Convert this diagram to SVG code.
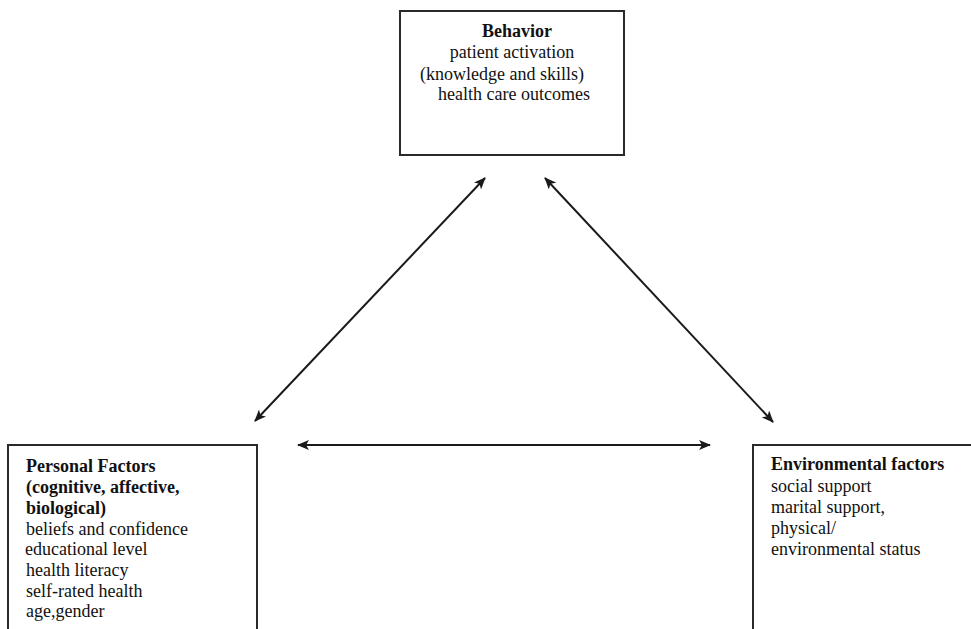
<svg xmlns="http://www.w3.org/2000/svg" width="971" height="629" viewBox="0 0 971 629">
<defs>
<marker id="ah" viewBox="0 0 12 10" refX="11" refY="5" markerWidth="13" markerHeight="10" orient="auto-start-reverse" markerUnits="userSpaceOnUse">
<path d="M0,0 L12,5 L0,10 L3,5 Z" fill="#1a1a1a"/>
</marker>
<style>
.box{fill:#fff;stroke:#2a2a2a;stroke-width:2}
.t{font-family:"Liberation Serif","Times New Roman",serif;font-size:18px;fill:#111}
.tb{font-family:"Liberation Serif","Times New Roman",serif;font-size:18px;font-weight:bold;fill:#111}
.c{stroke:#1a1a1a;stroke-width:2;fill:none;marker-start:url(#ah);marker-end:url(#ah)}
</style>
</defs>
<rect width="971" height="629" fill="#fff"/>
<g id="behavior">
<rect class="box" x="400" y="11" width="224" height="144"/>
<text class="tb" x="517" y="37" text-anchor="middle">Behavior</text>
<text class="t" x="512" y="58" text-anchor="middle">patient activation</text>
<text class="t" x="502" y="80" text-anchor="middle">(knowledge and skills)</text>
<text class="t" x="514" y="100" text-anchor="middle">health care outcomes</text>
</g>
<g id="personal">
<rect class="box" x="8" y="445" width="249" height="200"/>
<text class="tb" x="26" y="472">Personal Factors</text>
<text class="tb" x="26" y="493">(cognitive, affective,</text>
<text class="tb" x="26" y="514">biological)</text>
<text class="t" x="26" y="535">beliefs and confidence</text>
<text class="t" x="25" y="555">educational level</text>
<text class="t" x="26" y="576">health literacy</text>
<text class="t" x="26" y="597">self-rated health</text>
<text class="t" x="26" y="617">age,gender</text>
</g>
<g id="environmental">
<rect class="box" x="753" y="445" width="230" height="200"/>
<text class="tb" x="771" y="470">Environmental factors</text>
<text class="t" x="771" y="492">social support</text>
<text class="t" x="771" y="513">marital support,</text>
<text class="t" x="771" y="534">physical/</text>
<text class="t" x="771" y="555">environmental status</text>
</g>
<g id="connectors">
<line class="c" x1="255" y1="421" x2="485" y2="178"/>
<line class="c" x1="545" y1="178" x2="773" y2="422"/>
<line class="c" x1="298" y1="445" x2="710" y2="445"/>
</g>
</svg>
